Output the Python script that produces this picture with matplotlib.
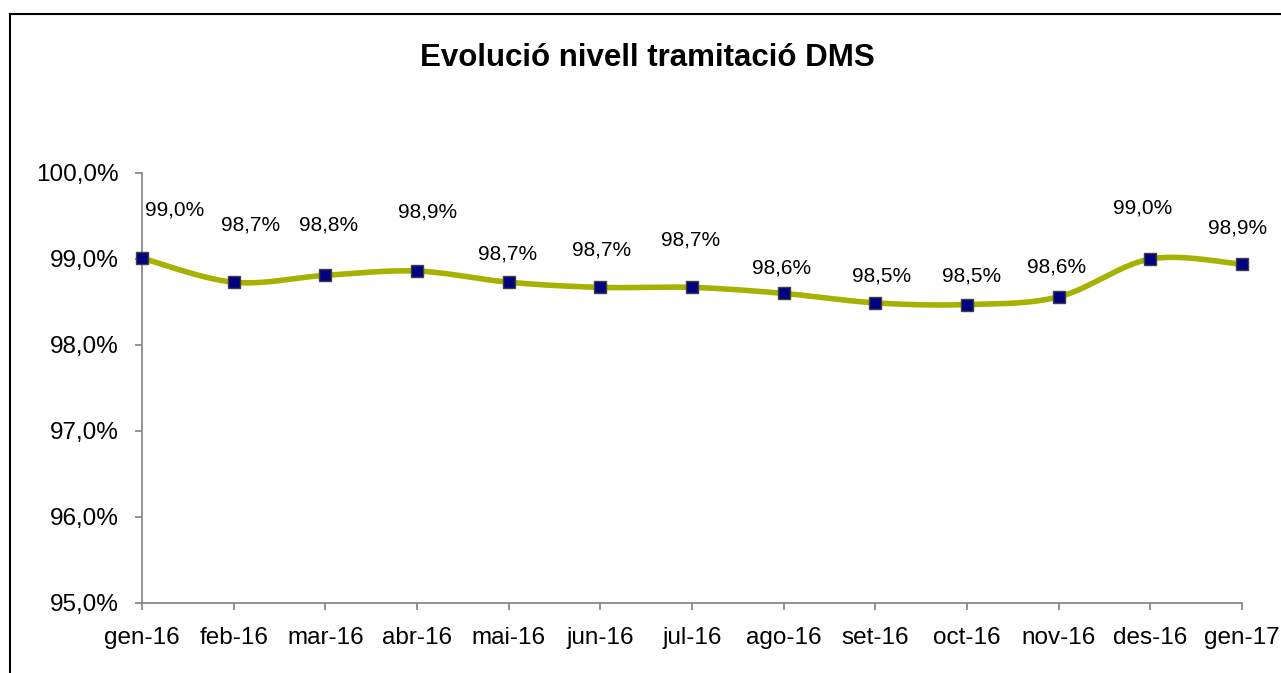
import numpy as np
import matplotlib
matplotlib.use('Agg')
import matplotlib.pyplot as plt
from matplotlib.lines import Line2D
from matplotlib.ticker import FuncFormatter, FixedLocator

plt.rcParams['font.family'] = ['Liberation Sans', 'DejaVu Sans']

# ---- data ----
mesos = ['gen-16', 'feb-16', 'mar-16', 'abr-16', 'mai-16', 'jun-16', 'jul-16',
         'ago-16', 'set-16', 'oct-16', 'nov-16', 'des-16', 'gen-17']
nivell = [99.01, 98.73, 98.81, 98.86, 98.73, 98.67, 98.67,
          98.60, 98.49, 98.47, 98.56, 99.00, 98.94]
y_ticks = [95, 96, 97, 98, 99, 100]

# label offsets (pixels) as placed in the original chart
lbl_dx = [33, 17, 3, 11, -1, 1, -1, -2, 6, 5, -2, -8, -4]
lbl_dy = [48, 57, 50, 59, 28, 37, 47, 25, 27, 29, 30, 51, 36]


def smooth(xs, ys, n=30):
    # Catmull-Rom style bezier, like the "smoothed line" option in Excel
    xs = np.asarray(xs, float)
    ys = np.asarray(ys, float)
    px = np.concatenate([[xs[0]], xs, [xs[-1]]])
    py = np.concatenate([[ys[0]], ys, [ys[-1]]])
    ox, oy = [], []
    t = np.linspace(0, 1, n)
    for i in range(1, len(px) - 2):
        p0 = np.array([px[i], py[i]])
        p3 = np.array([px[i + 1], py[i + 1]])
        c1 = p0 + (p3 - np.array([px[i - 1], py[i - 1]])) / 6.0
        c2 = p3 - (np.array([px[i + 2], py[i + 2]]) - p0) / 6.0
        b = ((1 - t) ** 3)[:, None] * p0 + (3 * (1 - t) ** 2 * t)[:, None] * c1 \
            + (3 * (1 - t) * t ** 2)[:, None] * c2 + (t ** 3)[:, None] * p3
        ox.extend(b[:, 0])
        oy.extend(b[:, 1])
    return ox, oy


W, H = 1281, 673
fig = plt.figure(figsize=(W / 100, H / 100), dpi=100)
ax = fig.add_axes([142 / W, 1 - 603 / H, (1242 - 142) / W, (603 - 173) / H])

x = np.arange(len(mesos))
sx, sy = smooth(x, nivell)
ax.plot(sx, sy, color='#A5B200', lw=4.0, solid_capstyle='round', clip_on=False, zorder=2)
ax.plot(x, nivell, ls='', marker='s', ms=8.5, mfc='#000080', mec='#404040', mew=1.0,
        clip_on=False, zorder=3)

for i, v in enumerate(nivell):
    ax.annotate(f'{v:.1f}%'.replace('.', ','), (x[i], v),
                xytext=(lbl_dx[i] * 0.72, lbl_dy[i] * 0.72), textcoords='offset points',
                ha='center', va='center', fontsize=15, color='black')

ax.set_xlim(0, len(mesos) - 1)
ax.set_ylim(95, 100)
ax.xaxis.set_major_locator(FixedLocator(x))
ax.set_xticklabels(mesos)
ax.yaxis.set_major_locator(FixedLocator(y_ticks))
ax.yaxis.set_major_formatter(FuncFormatter(lambda v, p: f'{v:.1f}%'.replace('.', ',')))

for s in ['top', 'right']:
    ax.spines[s].set_visible(False)
for s in ['left', 'bottom']:
    ax.spines[s].set_color('#808080')
    ax.spines[s].set_linewidth(1.2)
ax.tick_params(axis='both', colors='#808080', labelcolor='black', width=1.2, length=5,
               direction='out', labelsize=17.5)
ax.tick_params(axis='y', pad=12)
ax.tick_params(axis='x', pad=12)
ax.set_facecolor('none')

fig.text(647 / W, 1 - 58 / H, 'Evolució nivell tramitació DMS', ha='center', va='center',
         fontsize=22.5, fontweight='bold')

# chart area border (left and top visible)
fig.add_artist(Line2D([10 / W, 10 / W], [0, 1 - 14 / H], color='black', lw=1.5))
fig.add_artist(Line2D([10 / W, 1], [1 - 14 / H, 1 - 14 / H], color='black', lw=1.5))

fig.savefig('out.png', dpi=100)
